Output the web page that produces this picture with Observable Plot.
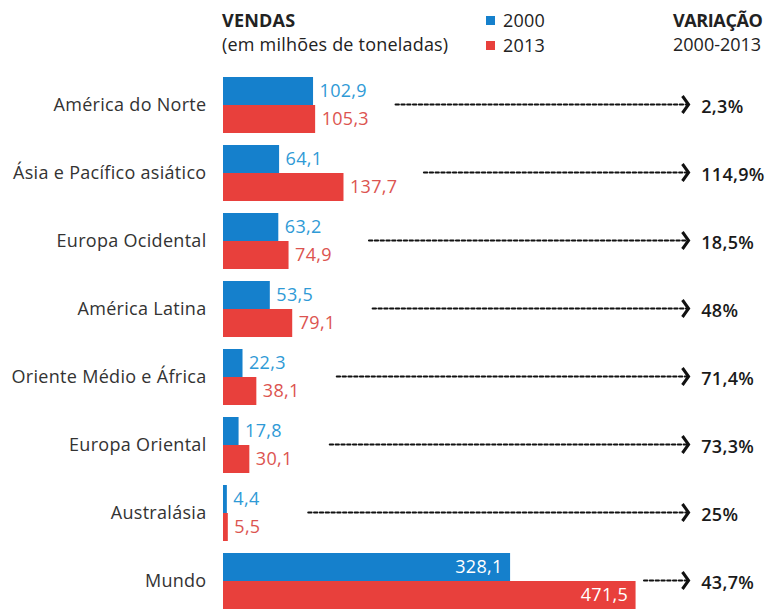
<!DOCTYPE html>
<html><head><meta charset="utf-8">
<script src="https://cdn.jsdelivr.net/npm/d3@7"></script>
<script src="https://cdn.jsdelivr.net/npm/@observablehq/plot@0.6"></script>
<style>
body{margin:0;background:#fff;font-family:"Open Sans",sans-serif;color:#222;overflow:hidden}
#wrap{position:relative;width:771px;height:609px}
#hdr{position:absolute;left:0;top:0;width:771px;height:65px}
.t{position:absolute;font-size:18px;line-height:20px;white-space:nowrap;color:#222;letter-spacing:0.2px}
.b{font-weight:700}
.sq{position:absolute;width:9px;height:9px}
#chart{position:absolute;left:0;top:65px}
.ch text{letter-spacing:0.3px}
</style></head><body><div id="wrap">
<div id="hdr"></div>
<div id="chart"></div>
</div>
<script>
const categories = ["América do Norte", "Ásia e Pacífico asiático", "Europa Ocidental", "América Latina", "Oriente Médio e África", "Europa Oriental", "Australásia", "Mundo"];
const sales2000 = [102.9, 64.1, 63.2, 53.5, 22.3, 17.8, 4.4, 328.1];
const sales2013 = [105.3, 137.7, 74.9, 79.1, 38.1, 30.1, 5.5, 471.5];
const variation = ["2,3%", "114,9%", "18,5%", "48%", "71,4%", "73,3%", "25%", "43,7%"];
const years = ["2000", "2013"];
const titleLeft = ["VENDAS", "(em milhões de toneladas)"];
const titleRight = ["VARIAÇÃO", "2000-2013"];
const worldLabel = "Mundo";

const BLUE = "#1580cc", RED = "#e8403c", BLUE_T = "#2f9ad6", RED_T = "#dc5450";

// header
const hdr = document.getElementById("hdr");
function addText(txt, pos, top, cls){const d=document.createElement("div");d.className="t "+(cls||"");Object.assign(d.style,pos);d.style.top=top+"px";d.textContent=txt;hdr.appendChild(d);return d;}
addText(titleLeft[0], {left:"222px"}, 10, "b");
addText(titleLeft[1], {left:"222px"}, 34);
addText(titleRight[0], {left:"673px", letterSpacing:"-0.4px"}, 10, "b");
addText(titleRight[1], {left:"673px", letterSpacing:"0px"}, 34);
years.forEach((y,i)=>{
  const s=document.createElement("div");s.className="sq";s.style.left="486px";s.style.top=(16+i*25)+"px";s.style.background=i?RED:BLUE;hdr.appendChild(s);
  addText(y, {left:"503px"}, 10+i*25);
});

const fmt = v => d3.format(".1f")(v).replace(".", ",");
const rows = categories.map((c,i)=>({cat:c, v2000:sales2000[i], v2013:sales2013[i], pct:variation[i], max:Math.max(sales2000[i], sales2013[i]), world:c===worldLabel}));
const regular = rows.filter(d=>!d.world), world = rows.filter(d=>d.world);

const ARROW_END = 531.5, PCT_X = 546;
const chevron = {draw(ctx, size){const r=Math.sqrt(size/Math.PI);ctx.moveTo(-r*0.72,-r);ctx.lineTo(0,0);ctx.lineTo(-r*0.72,r);}};

const plot = Plot.plot({
  className: "ch",
  width: 771, height: 544,
  marginLeft: 223, marginRight: 23, marginTop: 12, marginBottom: 0,
  style: {fontFamily: "Open Sans, sans-serif", fontSize: "18px", color: "#333", background: "transparent"},
  x: {domain: [0, 600], axis: null},
  y: {domain: categories, paddingInner: 12/68, paddingOuter: 0, align: 0.5, tickSize: 0, tickPadding: 17, label: null},
  marks: [
    Plot.barX(rows, {x: "v2000", y: "cat", fill: BLUE, insetBottom: 28}),
    Plot.barX(rows, {x: "v2013", y: "cat", fill: RED, insetTop: 28}),
    Plot.ruleX(rows, {x: 0, y: "cat", stroke: "#111", strokeWidth: 4}),
    Plot.text(regular, {x: "v2000", y: "cat", text: d=>fmt(d.v2000), dy: -14, dx: 6, textAnchor: "start", fill: BLUE_T, fontSize: 18}),
    Plot.text(regular, {x: "v2013", y: "cat", text: d=>fmt(d.v2013), dy: 14, dx: 6, textAnchor: "start", fill: RED_T, fontSize: 18}),
    Plot.text(world, {x: "v2000", y: "cat", text: d=>fmt(d.v2000), dy: -14, dx: -8, textAnchor: "end", fill: "white", fontSize: 18}),
    Plot.text(world, {x: "v2013", y: "cat", text: d=>fmt(d.v2013), dy: 14, dx: -8, textAnchor: "end", fill: "white", fontSize: 18}),
    Plot.arrow(regular, {x1: "max", x2: () => ARROW_END, y1: "cat", y2: "cat", dy: -1, insetStart: 80, insetEnd: 1, headLength: 0, stroke: "#111", strokeWidth: 2.2, strokeDasharray: "3.2,2.6"}),
    Plot.arrow(world, {x1: "max", x2: () => ARROW_END, y1: "cat", y2: "cat", dy: -1, insetStart: 8, insetEnd: 1, headLength: 0, stroke: "#111", strokeWidth: 2.2, strokeDasharray: "3.2,2.6"}),
    Plot.dot(rows, {x: () => ARROW_END, y: "cat", dy: -1, symbol: chevron, r: 8.5, fill: "none", stroke: "#111", strokeWidth: 3, strokeLinejoin: "miter"}),
    Plot.text(rows, {x: () => PCT_X, y: "cat", text: "pct", dy: 2, textAnchor: "start", fontWeight: 600, fill: "#1a1a1a", fontSize: 18})
  ]
});
document.getElementById("chart").appendChild(plot);
</script>
</body></html>
